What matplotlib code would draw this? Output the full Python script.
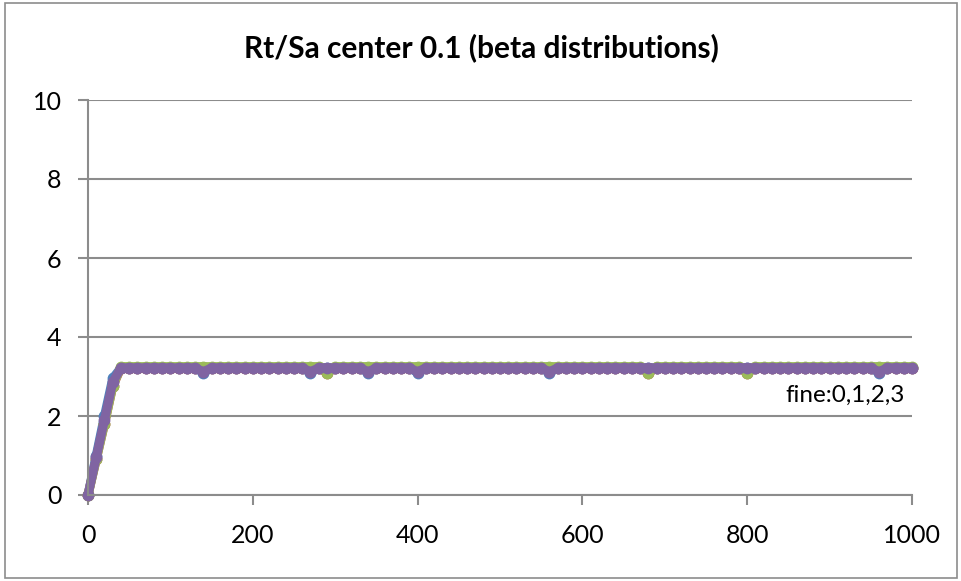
import matplotlib
matplotlib.use("Agg")
import matplotlib.pyplot as plt
from matplotlib.patches import Rectangle

#*************** DATA ******************#
x = list(range(0, 1001, 10))

blue = [0.0, 1.0, 2.0, 2.95, 3.22, 3.22, 3.22, 3.22, 3.22, 3.22,
        3.22, 3.22, 3.22, 3.22, 3.10, 3.22, 3.22, 3.22, 3.22, 3.22,
        3.22, 3.22, 3.22, 3.22, 3.22, 3.22, 3.22, 3.10, 3.22, 3.22,
        3.22, 3.22, 3.22, 3.22, 3.10, 3.22, 3.22, 3.22, 3.22, 3.22,
        3.10, 3.22, 3.22, 3.22, 3.22, 3.22, 3.22, 3.22, 3.22, 3.22,
        3.22, 3.22, 3.22, 3.22, 3.22, 3.22, 3.10, 3.22, 3.22, 3.22,
        3.22, 3.22, 3.22, 3.22, 3.22, 3.22, 3.22, 3.22, 3.22, 3.22,
        3.22, 3.22, 3.22, 3.22, 3.22, 3.22, 3.22, 3.22, 3.22, 3.22,
        3.22, 3.22, 3.22, 3.22, 3.22, 3.22, 3.22, 3.22, 3.22, 3.22,
        3.22, 3.22, 3.22, 3.22, 3.22, 3.22, 3.10, 3.22, 3.22, 3.22,
        3.22]

red = [0.0, 0.9, 1.8, 2.75, 3.22, 3.22, 3.22, 3.22, 3.22, 3.22,
       3.22, 3.22, 3.22, 3.22, 3.22, 3.22, 3.22, 3.22, 3.22, 3.22,
       3.22, 3.22, 3.22, 3.22, 3.22, 3.22, 3.22, 3.22, 3.22, 3.10,
       3.22, 3.22, 3.22, 3.22, 3.22, 3.22, 3.22, 3.22, 3.22, 3.22,
       3.22, 3.22, 3.22, 3.22, 3.22, 3.22, 3.22, 3.22, 3.22, 3.22,
       3.22, 3.22, 3.22, 3.22, 3.22, 3.22, 3.22, 3.22, 3.22, 3.22,
       3.22, 3.22, 3.22, 3.22, 3.22, 3.22, 3.22, 3.22, 3.10, 3.22,
       3.22, 3.22, 3.22, 3.22, 3.22, 3.22, 3.22, 3.22, 3.22, 3.22,
       3.10, 3.22, 3.22, 3.22, 3.22, 3.22, 3.22, 3.22, 3.22, 3.22,
       3.22, 3.22, 3.22, 3.22, 3.22, 3.22, 3.22, 3.22, 3.22, 3.22,
       3.22]

green = [0.0, 0.9, 1.8, 2.75, 3.25, 3.25, 3.25, 3.25, 3.25, 3.25,
         3.25, 3.25, 3.25, 3.25, 3.25, 3.25, 3.25, 3.25, 3.25, 3.25,
         3.25, 3.25, 3.25, 3.25, 3.25, 3.25, 3.25, 3.25, 3.25, 3.10,
         3.25, 3.25, 3.25, 3.25, 3.25, 3.25, 3.25, 3.25, 3.25, 3.25,
         3.25, 3.25, 3.25, 3.25, 3.25, 3.25, 3.25, 3.25, 3.25, 3.25,
         3.25, 3.25, 3.25, 3.25, 3.25, 3.25, 3.25, 3.25, 3.25, 3.25,
         3.25, 3.25, 3.25, 3.25, 3.25, 3.25, 3.25, 3.25, 3.10, 3.25,
         3.25, 3.25, 3.25, 3.25, 3.25, 3.25, 3.25, 3.25, 3.25, 3.25,
         3.10, 3.25, 3.25, 3.25, 3.25, 3.25, 3.25, 3.25, 3.25, 3.25,
         3.25, 3.25, 3.25, 3.25, 3.25, 3.25, 3.25, 3.25, 3.25, 3.25,
         3.25]

purple = [0.0, 0.95, 1.9, 2.85, 3.22, 3.22, 3.22, 3.22, 3.22, 3.22,
          3.22, 3.22, 3.22, 3.22, 3.12, 3.22, 3.22, 3.22, 3.22, 3.22,
          3.22, 3.22, 3.22, 3.22, 3.22, 3.22, 3.22, 3.12, 3.22, 3.22,
          3.22, 3.22, 3.22, 3.22, 3.12, 3.22, 3.22, 3.22, 3.22, 3.22,
          3.12, 3.22, 3.22, 3.22, 3.22, 3.22, 3.22, 3.22, 3.22, 3.22,
          3.22, 3.22, 3.22, 3.22, 3.22, 3.22, 3.12, 3.22, 3.22, 3.22,
          3.22, 3.22, 3.22, 3.22, 3.22, 3.22, 3.22, 3.22, 3.22, 3.22,
          3.22, 3.22, 3.22, 3.22, 3.22, 3.22, 3.22, 3.22, 3.22, 3.22,
          3.22, 3.22, 3.22, 3.22, 3.22, 3.22, 3.22, 3.22, 3.22, 3.22,
          3.22, 3.22, 3.22, 3.22, 3.22, 3.22, 3.12, 3.22, 3.22, 3.22,
          3.22]

x_ticks = [0, 200, 400, 600, 800, 1000]
y_ticks = [0, 2, 4, 6, 8, 10]
title = "Rt/Sa center 0.1 (beta distributions)"
note = "fine:0,1,2,3"

#*************** PLOT ******************#
plt.rcParams['font.family'] = ['Lato', 'DejaVu Sans']
GRID = "#8c8c8c"

fig = plt.figure(figsize=(9.62, 5.81), dpi=100)
ax = fig.add_axes([88 / 962, 1 - 495 / 581, 824 / 962, 395 / 581])

# chart border
fig.patches.append(Rectangle((5 / 962, 3 / 581), 952 / 962, 575 / 581,
                             transform=fig.transFigure, fill=False,
                             edgecolor="#8c8c8c", linewidth=1.2))

series = [(blue, "#4F81BD"), (red, "#C0504D"), (green, "#9BBB59"), (purple, "#8064A2")]
for vals, col in series:
    ax.plot(x, vals, color=col, linewidth=6.5, marker="o", markersize=8.5,
            markeredgewidth=0, solid_capstyle="round", clip_on=False)

ax.set_xlim(0, 1000)
ax.set_ylim(0, 10)
ax.set_xticks(x_ticks)
ax.set_yticks(y_ticks)
ax.tick_params(axis="both", labelsize=18, color=GRID, width=1.5, length=7,
               direction="out", labelcolor="black")
ax.tick_params(axis="x", pad=14)
ax.tick_params(axis="y", pad=12)
ax.yaxis.grid(True, color=GRID, linewidth=1.5)
ax.set_axisbelow(True)
for s in ["top", "right"]:
    ax.spines[s].set_visible(False)
for s in ["left", "bottom"]:
    ax.spines[s].set_color(GRID)
    ax.spines[s].set_linewidth(1.5)

ax.text(991, 2.53, note, ha="right", va="center", fontsize=17.5)
fig.text(0.5, 1 - 48 / 581, title, ha="center", va="center",
         fontsize=21.5, fontweight="bold")

fig.savefig("out.png", dpi=100)
